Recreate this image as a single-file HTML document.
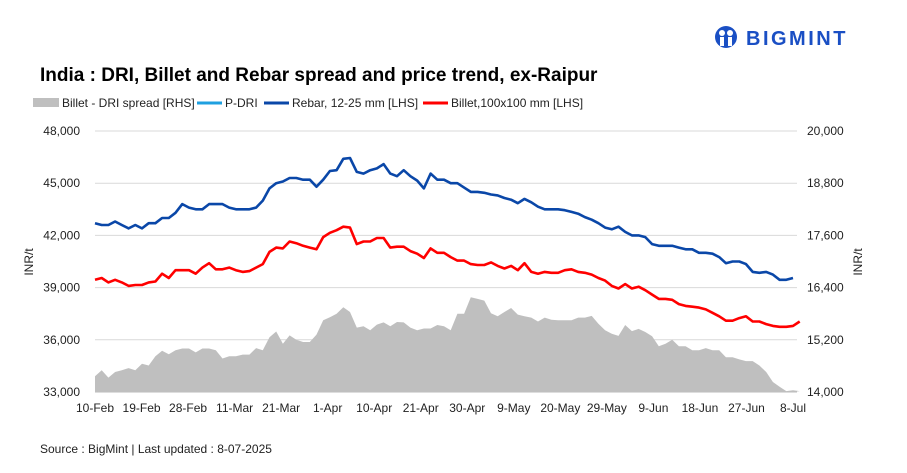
<!DOCTYPE html>
<html><head><meta charset="utf-8">
<style>
body{margin:0;background:#fff;font-family:"Liberation Sans",Arial,sans-serif;}
#wrap{position:relative;width:907px;height:473px;overflow:hidden;}
</style></head>
<body>
<div id="wrap">
<svg id="chart" width="907" height="473" font-family="Liberation Sans, Arial, sans-serif">
  <g>
    <circle cx="726" cy="37" r="11" fill="#1a4fc4"/>
    <circle cx="722" cy="33" r="3" fill="#fff"/><circle cx="730" cy="33" r="3" fill="#fff"/>
    <rect x="720" y="37" width="4" height="9" fill="#fff"/><rect x="728" y="37" width="4" height="9" fill="#fff"/>
    <text x="746" y="45" font-size="20" font-weight="bold" fill="#1a4fc4" letter-spacing="2.5">BIGMINT</text>
  </g>
  <text x="40" y="81" font-size="19" font-weight="bold" fill="#000">India : DRI, Billet and Rebar spread and price trend, ex-Raipur</text>
  <g font-size="12" fill="#222">
    <g><rect x="33" y="98" width="26" height="9" fill="#bfbfbf"/><text x="62" y="107">Billet - DRI spread  [RHS]</text></g>
    <g><line x1="197" y1="103" x2="222" y2="103" stroke="#1fa0e0" stroke-width="3"/><text x="225" y="107">P-DRI</text></g>
    <g><line x1="264" y1="103" x2="289" y2="103" stroke="#0a47a8" stroke-width="3"/><text x="292" y="107">Rebar, 12-25 mm [LHS]</text></g>
    <g><line x1="423" y1="103" x2="448" y2="103" stroke="#ff0000" stroke-width="3"/><text x="451" y="107">Billet,100x100 mm [LHS]</text></g>
  </g>
  <g id="grid"></g>
  <g id="area"></g>
  <g id="lines"></g>
  <g id="axes" font-size="12" fill="#222"></g>
  <text transform="translate(33,262) rotate(-90)" text-anchor="middle" font-size="12" fill="#222">INR/t</text>
  <text transform="translate(862,262) rotate(-90)" text-anchor="middle" font-size="12" fill="#222">INR/t</text>
  <text x="40" y="453" font-size="12" fill="#222">Source : BigMint | Last updated : 8-07-2025</text>
</svg>
</div>
<script>
const xLabels=["10-Feb","19-Feb","28-Feb","11-Mar","21-Mar","1-Apr","10-Apr","21-Apr","30-Apr","9-May","20-May","29-May","9-Jun","18-Jun","27-Jun","8-Jul"];
const leftTicks=[33000,36000,39000,42000,45000,48000];
const rightTicks=[14000,15200,16400,17600,18800,20000];
const rebar=[42700,42600,42600,42800,42600,42400,42600,42400,42700,42700,43000,43000,43300,43800,43600,43500,43500,43800,43800,43800,43600,43500,43500,43500,43600,44000,44700,45000,45100,45300,45300,45200,45200,44800,45200,45700,
45750,46400,46450,45650,45550,45750,45850,46100,45550,45400,45750,45400,45150,44700,45550,45200,45200,45000,45000,44750,44500,44500,44450,44350,44300,44150,44050,43850,44100,43900,43650,43500,43500,
43500,43450,43350,43250,43050,42900,42700,42450,42350,42500,42200,42000,42000,41900,41500,41400,41400,41400,41300,41200,41200,41000,41000,40950,40750,40400,40500,40500,40350,39900,39850,39900,39750,39450,39450,39550];
const billet=[39450,39550,39300,39450,39300,39100,39150,39150,39300,39350,39800,39550,40000,40000,40000,39800,40150,40400,40050,40050,40150,40000,39900,39950,40150,40350,41050,41300,41250,41650,41550,41400,41300,41200,41900,42150,
42300,42500,42450,41500,41650,41650,41850,41850,41300,41350,41350,41100,40950,40700,41250,41000,41000,40750,40550,40550,40350,40300,40300,40450,40250,40100,40250,40000,40400,39900,39800,39900,39850,
39850,40000,40050,39900,39850,39750,39550,39400,39100,38950,39200,38950,39050,38850,38600,38350,38350,38300,38050,37950,37900,37850,37750,37550,37350,37100,37100,37250,37350,37050,37050,36900,36800,36750,36750,36800,37050];
const spread=[14360,14500,14330,14460,14500,14550,14500,14650,14610,14820,14950,14870,14960,15000,15000,14910,15000,15000,14960,14770,14820,14820,14860,14860,15010,14960,15260,15390,15110,15300,15200,15150,15150,15320,15650,15720,
15800,15950,15840,15480,15510,15420,15550,15600,15510,15610,15600,15480,15420,15460,15460,15540,15510,15420,15800,15800,16180,16140,16100,15810,15740,15840,15930,15780,15740,15710,15620,15710,15660,
15650,15650,15650,15710,15710,15750,15570,15420,15340,15290,15540,15400,15450,15380,15280,15050,15110,15200,15050,15050,14960,14960,15010,14960,14960,14800,14800,14750,14710,14710,14610,14460,14230,14120,14020,14040,14020];

const X0=95,X1=793,Y0=392,Y1=131;
const N=rebar.length;
const xs=i=>X0+(X1-X0)*i/(N-1);
const yL=v=>Y0-(v-33000)/(48000-33000)*(Y0-Y1);
const yR=v=>Y0-(v-14000)/(20000-14000)*(Y0-Y1);
const NS="http://www.w3.org/2000/svg";
function mk(tag,attrs,parent){const e=document.createElementNS(NS,tag);for(const k in attrs)e.setAttribute(k,attrs[k]);parent.appendChild(e);return e;}
const grid=document.getElementById('grid'),axes=document.getElementById('axes'),area=document.getElementById('area'),lines=document.getElementById('lines');
leftTicks.forEach((t,k)=>{
  const y=yL(t);
  const g=mk('line',{x1:X0,x2:797,y1:y,y2:y,stroke:(k===0?'#bbb':'#d9d9d9'),'stroke-width':1},grid);
  
  
  const tx=mk('text',{x:80,y:y+4,'text-anchor':'end'},axes);tx.textContent=t.toLocaleString('en-US');
  
  
});
rightTicks.forEach(t=>{
  const y=yR(t);
  const tx=mk('text',{x:807,y:y+4},axes);tx.textContent=t.toLocaleString('en-US');
  
  
});
const step=(N-1)/(xLabels.length-1);
xLabels.forEach((l,k)=>{
  const tx=mk('text',{x:xs(k*step),y:412,'text-anchor':'middle'},axes);tx.textContent=l;
  
  
});
let d='M'+xs(0)+','+yR(14000);
spread.forEach((v,i)=>{d+='L'+xs(i).toFixed(1)+','+yR(v).toFixed(1);});
d+='L'+xs(N-1)+','+yR(14000)+'Z';
const ar=mk('path',{d:d,fill:'#bfbfbf'},area);


function line(arr,color,name){
  const p=arr.map((v,i)=>xs(i).toFixed(1)+','+yL(v).toFixed(1)).join(' ');
  const pl=mk('polyline',{points:p,fill:'none',stroke:color,'stroke-width':2.6,'stroke-linejoin':'round'},lines);
  
  
}
line(billet,'#ff0000','billet-line');
line(rebar,'#0a47a8','rebar-line');
</script>
</body></html>
